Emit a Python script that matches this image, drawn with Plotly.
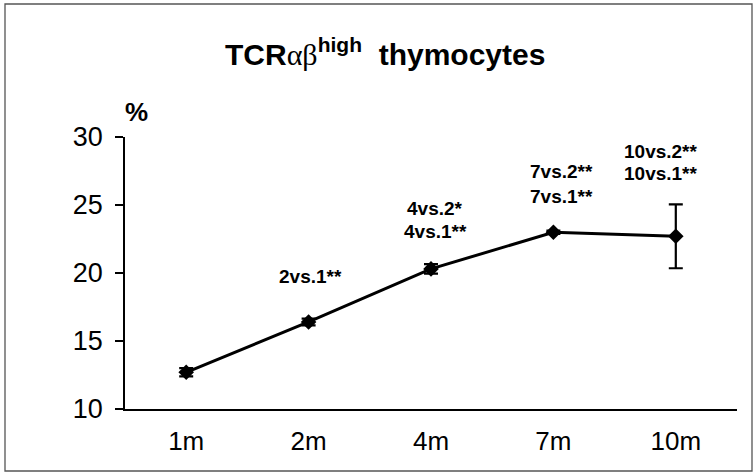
import plotly.graph_objects as go

categories = ["1m", "2m", "4m", "7m", "10m"]
values = [12.7, 16.4, 20.3, 23.0, 22.7]
errors = [0.3, 0.25, 0.35, 0.12, 2.35]
y_ticks = [10, 15, 20, 25, 30]

# significance labels: (category, text, y in data units, xshift px)
sig_labels = [
    ("2m", "2vs.1**", 19.74, 2),
    ("4m", "4vs.2*", 24.74, 4),
    ("4m", "4vs.1**", 23.05, 4),
    ("7m", "7vs.2**", 27.43, 8),
    ("7m", "7vs.1**", 25.66, 8),
    ("10m", "10vs.2**", 28.97, -15),
    ("10m", "10vs.1**", 27.35, -15),
]

FONT = "Liberation Sans, Arial, sans-serif"
W, H = 755, 474
L, R, T, B = 125, 18, 137, 65
PW, PH = W - L - R, H - T - B

fig = go.Figure()
fig.add_trace(go.Scatter(
    x=categories, y=values,
    mode="lines+markers",
    line=dict(color="black", width=3),
    marker=dict(symbol="diamond", size=12, color="black"),
    error_y=dict(type="data", array=errors, visible=True, color="black", thickness=2.2, width=7),
    showlegend=False,
))

for cat, txt, yv, xs in sig_labels:
    fig.add_annotation(x=cat, y=yv, text=f"<b>{txt}</b>", showarrow=False,
                       xshift=xs, font=dict(family=FONT, size=19, color="black"))

# "%" unit label above the y axis
fig.add_annotation(xref="paper", yref="paper", x=-2 / PW, y=1 + 25 / PH,
                   text="<b>%</b>", showarrow=False, xanchor="left", yanchor="middle",
                   font=dict(family=FONT, size=26, color="black"))

# title
fig.add_annotation(xref="paper", yref="paper", x=(385 - L) / PW, y=1 + (T - 52) / PH,
                   text='<b>TCR<span style="font-family:Liberation Serif;font-weight:normal">αβ</span><sup>high</sup>  thymocytes</b>',
                   showarrow=False, xanchor="center", yanchor="middle",
                   font=dict(family=FONT, size=30, color="black"))

# frame around the figure
def px_x(v):
    return (v - L) / PW

def px_y(v):
    return (H - B - v) / PH

fig.add_shape(type="rect", xref="paper", yref="paper",
              x0=px_x(5), x1=px_x(752), y0=px_y(471), y1=px_y(4),
              line=dict(color="#555", width=1.3))

fig.update_layout(
    width=W, height=H,
    margin=dict(l=L, r=R, t=T, b=B),
    paper_bgcolor="white", plot_bgcolor="white",
    font=dict(family=FONT, color="black"),
    xaxis=dict(
        type="category", range=[-0.5, 4.5],
        showline=True, linecolor="black", linewidth=1.5,
        ticks="", showgrid=False, zeroline=False,
        ticklabelstandoff=8,
        tickfont=dict(family=FONT, size=26, color="black"),
    ),
    yaxis=dict(
        range=[10, 30], tickvals=y_ticks,
        showline=True, linecolor="black", linewidth=1.5,
        ticks="outside", ticklen=8, tickwidth=1.5, tickcolor="black",
        showgrid=False, zeroline=False,
        ticklabelstandoff=7,
        tickfont=dict(family=FONT, size=27, color="black"),
    ),
)

fig.write_html("out.html", config={"displayModeBar": False},
               post_script="document.body.style.margin='0';")
